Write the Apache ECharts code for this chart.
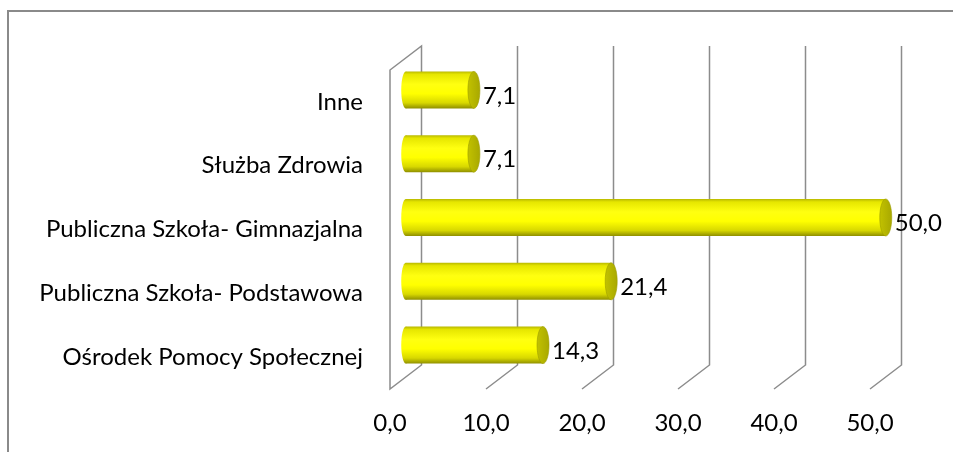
<!DOCTYPE html>
<html lang="pl">
<head>
    <meta charset="UTF-8">
    <title>Wykres słupkowy</title>
    <style>
        html, body { margin: 0; padding: 0; background: #fff; }
        #frame { position: absolute; left: 7px; top: 10px; width: 980px; height: 480px; border: 2px solid #8a8a8a; box-sizing: border-box; }
        #container { position: absolute; left: 0; top: 0; width: 953px; height: 452px; }
    </style>
</head>
<body>
<div id="frame"></div>
<div id="container"></div>
<script src="https://cdn.jsdelivr.net/npm/echarts@6/dist/echarts.min.js"></script>
<script type="text/javascript">
    // dane (od dołu do góry)
    var categories = ['Ośrodek Pomocy Społecznej', 'Publiczna Szkoła- Podstawowa', 'Publiczna Szkoła- Gimnazjalna', 'Służba Zdrowia', 'Inne'];
    var values = [14.3, 21.4, 50.0, 7.1, 7.1];
    var xTicks = [0, 10, 20, 30, 40, 50];

    var FONT = 'Lato';
    var FS = 24;
    var DX = 31.5, DY = -24; // głębia 3D (tył względem przodu)

    function fmt(v) { return v.toFixed(1).replace('.', ','); }

    var myChart = echarts.init(document.getElementById('container'));

    // linie siatki 3D
    function renderGrid(params, api) {
        var v = api.value(0);
        var cs = params.coordSys;
        var xf = api.coord([v, 0])[0];
        var xb = xf + DX;
        var topB = cs.y + DY, botF = cs.y + cs.height, botB = botF + DY;
        if (v === 0) {
            return {
                type: 'polygon',
                shape: { points: [[xf, cs.y], [xb, topB], [xb, botB], [xf, botF]] },
                style: { stroke: '#8c8c8c', lineWidth: 1.5, fill: '#fff' }
            };
        }
        return {
            type: 'polyline',
            shape: { points: [[xb, topB], [xb, botB], [xf, botF]] },
            style: { stroke: '#8c8c8c', lineWidth: 1.5, fill: null }
        };
    }

    // cylindry
    function renderBar(params, api) {
        var v = api.value(0);
        var c = api.value(1);
        var p0 = api.coord([0, c]);
        var p1 = api.coord([v, c]);
        var band = api.size([0, 1])[1];
        var h = band * 0.58;
        var x0 = p0[0] + DX / 2, x1 = p1[0] + DX / 2, cy = p0[1] + DY / 2;
        var ry = h / 2, rx = 6;
        var bodyFill = new echarts.graphic.LinearGradient(0, 0, 0, 1, [
            { offset: 0, color: '#b8b800' },
            { offset: 0.08, color: '#e6e600' },
            { offset: 0.35, color: '#ffff10' },
            { offset: 0.6, color: '#ffff00' },
            { offset: 0.85, color: '#d8d800' },
            { offset: 1, color: '#8f8f00' }
        ]);
        var capFill = new echarts.graphic.LinearGradient(0, 0, 1, 0, [
            { offset: 0, color: '#c2c200' },
            { offset: 1, color: '#a8a800' }
        ]);
        return {
            type: 'group',
            children: [
                { type: 'ellipse', shape: { cx: x0, cy: cy, rx: 4.5, ry: ry }, style: { fill: bodyFill } },
                { type: 'rect', shape: { x: x0, y: cy - ry, width: x1 - x0, height: h }, style: { fill: bodyFill } },
                { type: 'ellipse', shape: { cx: x1, cy: cy, rx: rx, ry: ry }, style: { fill: capFill, stroke: '#9c9c00', lineWidth: 0.6 } },
                {
                    type: 'text',
                    style: {
                        x: x1 + 9, y: cy + 6, text: fmt(v),
                        font: FS + 'px ' + FONT, fill: '#000',
                        verticalAlign: 'middle', align: 'left'
                    }
                }
            ]
        };
    }

    var barData = values.map(function (v, i) { return [v, i]; });
    var gridData = xTicks.map(function (t) { return [t, 0]; });

    var option = {
        animation: false,
        grid: { left: 390, top: 70, width: 480, height: 319 },
        xAxis: {
            type: 'value',
            min: 0, max: 50, interval: 10,
            axisLine: { show: false },
            axisTick: { show: false },
            splitLine: { show: false },
            axisLabel: {
                margin: 22,
                formatter: function (v) { return fmt(v); },
                fontFamily: FONT, fontSize: FS, color: '#000'
            }
        },
        yAxis: {
            type: 'category',
            data: categories,
            axisLine: { show: false },
            axisTick: { show: false },
            axisLabel: { margin: 27, fontFamily: FONT, fontSize: FS, color: '#000' }
        },
        series: [
            { type: 'custom', data: gridData, renderItem: renderGrid, encode: { x: 0 }, z: 1, silent: true },
            { type: 'custom', data: barData, renderItem: renderBar, encode: { x: 0, y: 1 }, z: 2 }
        ]
    };

    myChart.setOption(option, true);
</script>
</body>
</html>
